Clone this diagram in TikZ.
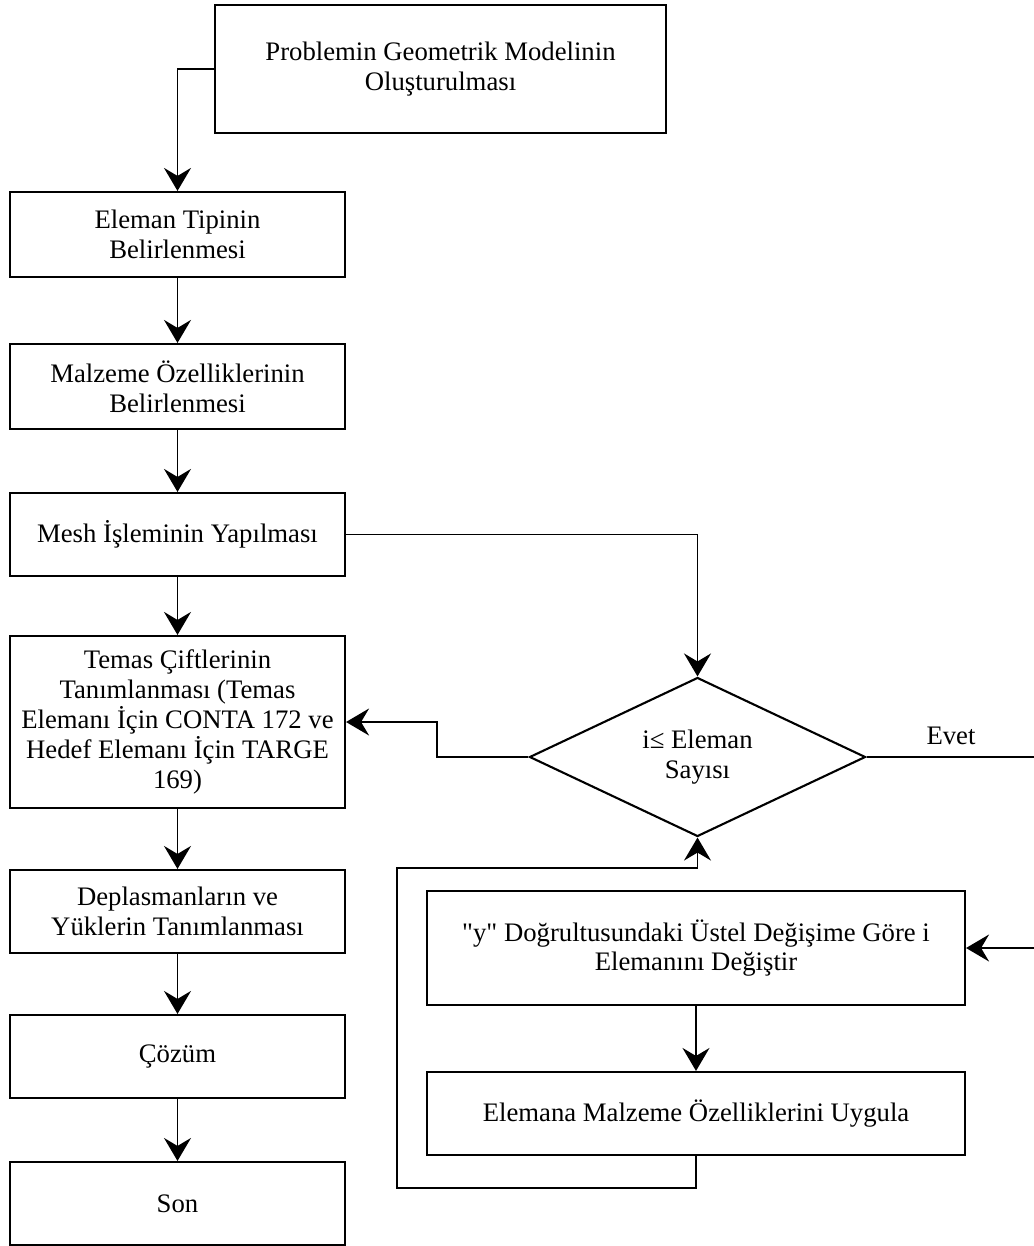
\documentclass[tikz,border=0pt]{standalone}
\usepackage{fontspec}
\setmainfont{Liberation Serif}
\usepackage{tikz}
\usetikzlibrary{arrows.meta,positioning,shapes.geometric,calc}

\begin{document}
\begin{tikzpicture}[
  font=\fontsize{15.2}{17}\selectfont,
  bx/.style={rectangle, draw, line width=1.2pt, align=center, inner sep=2pt,
             minimum width=6.7cm, minimum height=1.7cm},
  dc/.style={diamond, draw, line width=1.2pt, align=center, inner sep=0pt,
             aspect=2.1, minimum width=6.72cm, minimum height=3.18cm},
  ar/.style={line width=1.1pt, -{Stealth[length=4.6mm, width=5.4mm, inset=1.6mm]}},
  ln/.style={line width=1.1pt}]
\useasboundingbox (0,0) rectangle (20.66,-24.92);
\node[bx, minimum width=9.02cm, minimum height=2.56cm] (geo) at (8.81,-1.38)
     {Problemin Geometrik Modelinin\\Oluşturulması};
\node[bx] (tip)  at (3.55,-4.69)  {Eleman Tipinin\\Belirlenmesi};
\node[bx] (malz) at (3.55,-7.73)  {Malzeme Özelliklerinin\\Belirlenmesi};
\node[bx, minimum height=1.66cm] (mesh) at (3.55,-10.69) {Mesh İşleminin Yapılması};
\node[bx, minimum height=3.44cm] (temas) at (3.55,-14.44)
     {Temas Çiftlerinin\\Tanımlanması (Temas\\Elemanı İçin CONTA 172 ve\\Hedef Elemanı İçin TARGE\\169)};
\node[bx, minimum height=1.66cm] (depl) at (3.55,-18.23) {Deplasmanların ve\\Yüklerin Tanımlanması};
\node[bx, minimum height=1.66cm] (coz)  at (3.55,-21.13) {Çözüm};
\node[bx, minimum height=1.66cm] (son)  at (3.55,-24.07) {Son};
\node[dc] (dec) at (13.95,-15.14) {i≤ Eleman\\Sayısı};
\node[bx, minimum width=10.76cm, minimum height=2.28cm] (chg) at (13.92,-18.96)
     {\textquotedbl y\textquotedbl{} Doğrultusundaki Üstel Değişime Göre i\\Elemanını Değiştir};
\node[bx, minimum width=10.76cm, minimum height=1.66cm] (app) at (13.92,-22.27)
     {Elemana Malzeme Özelliklerini Uygula};
\node (evet) at (19.02,-14.72) {Evet};
\draw[ar] (geo.west) -| (tip.north);
\draw[ar] (tip) -- (malz);
\draw[ar] (malz) -- (mesh);
\draw[ar] (mesh) -- (temas);
\draw[ar] (temas) -- (depl);
\draw[ar] (depl) -- (coz);
\draw[ar] (coz) -- (son);
\draw[ar] (mesh.east) -| (dec.north);
\draw[ar] (dec.west) -- ++(-1.82,0) |- (temas.east);
\draw[ar] (dec.east) -- (21.2,-15.14) |- (chg.east);
\draw[ar] (chg) -- (app);
\draw[ar] (app.south) -- ++(0,-0.64) -| (7.94,-17.36) -| (dec.south);
\end{tikzpicture}
\end{document}
